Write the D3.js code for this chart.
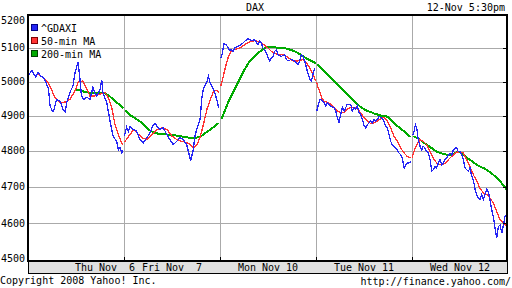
<!DOCTYPE html>
<html>
<head>
<meta charset="utf-8">
<script src="https://cdn.jsdelivr.net/npm/d3@7/dist/d3.min.js"></script>
<style>
body { margin: 0; background: #fff; }
text { font-family: "DejaVu Sans Mono", monospace; font-size: 10px; fill: #000; }
</style>
</head>
<body>
<script>
// trading days shown, minutes since 09:00 per day
var days = ["Thu Nov  6", "Fri Nov  7", "Mon Nov 10", "Tue Nov 11", "Wed Nov 12"];
var yTicks = [4500, 4600, 4700, 4800, 4900, 5000, 5100, 5200];
var seriesNames = ["^GDAXI", "50-min MA", "200-min MA"];

// ^GDAXI, one array per day: [minute, level]
var gdaxi = [
  [[0,5016],[20,5033],[32,5021],[42,5013],[53,5027],[69,5016],[85,5010],[99,4992],[109,4978],[117,4929],[128,4916],[135,4913],[152,4948],[170,4943],[186,4919],[197,4911],[206,4940],[223,4969],[239,4987],[250,5027],[266,5058],[276,5007],[284,4958],[297,4948],[313,4954],[329,4948],[338,4968],[345,4983],[356,4966],[365,4958],[383,4978],[392,5005],[398,4968],[418,4939],[436,4885],[452,4842],[471,4827],[480,4803],[489,4809],[498,4795],[505,4803]],
  [[2,4842],[14,4867],[24,4855],[32,4870],[48,4861],[67,4856],[85,4832],[103,4823],[121,4837],[138,4851],[156,4875],[165,4878],[174,4871],[191,4861],[209,4866],[227,4847],[244,4832],[262,4818],[280,4827],[297,4837],[315,4832],[333,4818],[354,4773],[368,4803],[377,4842],[386,4861],[404,4890],[413,4948],[421,4978],[439,4997],[448,5016],[457,4998],[475,4978],[484,4963],[493,4948],[502,4924]],
  [[4,5071],[11,5080],[21,5112],[33,5110],[43,5100],[52,5092],[60,5095],[69,5090],[78,5100],[96,5105],[113,5110],[131,5120],[149,5128],[167,5122],[184,5125],[202,5110],[211,5120],[220,5115],[228,5100],[237,5095],[246,5085],[255,5071],[264,5061],[273,5071],[282,5075],[291,5090],[300,5095],[308,5080],[326,5075],[344,5080],[353,5066],[361,5061],[379,5066],[397,5061],[414,5051],[423,5061],[432,5080],[441,5075],[450,5061],[459,5041],[468,5022],[477,5007],[486,5002],[494,5022],[503,5041]],
  [[4,4914],[11,4929],[21,4948],[33,4945],[43,4939],[52,4929],[60,4939],[69,4934],[78,4929],[96,4924],[105,4914],[113,4895],[122,4882],[131,4904],[140,4924],[149,4914],[158,4924],[166,4934],[184,4934],[193,4914],[202,4924],[211,4919],[220,4929],[228,4911],[237,4904],[246,4890],[255,4873],[264,4866],[273,4875],[282,4880],[291,4885],[300,4880],[308,4890],[317,4885],[326,4890],[335,4899],[344,4895],[352,4892],[361,4885],[370,4871],[379,4866],[388,4846],[397,4827],[405,4818],[414,4813],[423,4808],[432,4803],[441,4794],[450,4789],[459,4780],[468,4752],[477,4761],[486,4766],[494,4766],[503,4770]],
  [[4,4846],[11,4856],[18,4875],[25,4866],[33,4832],[43,4813],[52,4803],[60,4813],[69,4808],[78,4798],[87,4794],[96,4775],[105,4743],[113,4747],[122,4756],[131,4752],[140,4766],[149,4775],[158,4761],[166,4766],[175,4775],[184,4780],[193,4789],[202,4794],[211,4789],[220,4803],[228,4808],[237,4808],[246,4798],[255,4798],[264,4789],[273,4775],[282,4752],[291,4747],[300,4743],[308,4752],[317,4729],[326,4719],[335,4692],[344,4678],[352,4669],[361,4664],[370,4678],[379,4664],[388,4678],[397,4692],[405,4687],[414,4664],[423,4637],[432,4618],[441,4587],[450,4560],[459,4591],[468,4595],[477,4573],[486,4595],[494,4618],[503,4622]]
];

var ma50 = [
  [[55,5022],[81,5012],[108,4997],[124,4978],[143,4953],[170,4939],[197,4940],[223,4948],[250,4973],[267,4999],[291,5002],[308,4982],[329,4958],[356,4958],[383,4963],[409,4968],[427,4953],[445,4924],[462,4875],[480,4846],[498,4823],[506,4818]],
  [[4,4826],[25,4842],[52,4861],[69,4851],[96,4837],[122,4832],[149,4847],[175,4861],[202,4866],[228,4861],[255,4842],[281,4832],[308,4827],[335,4823],[352,4818],[370,4808],[388,4818],[406,4842],[424,4880],[441,4920],[459,4948],[477,4973],[494,4975],[503,4968]],
  [[4,4987],[16,5012],[28,5041],[43,5071],[57,5088],[78,5095],[105,5100],[131,5110],[158,5118],[184,5122],[202,5120],[228,5112],[255,5100],[282,5085],[308,5080],[335,5080],[361,5072],[388,5061],[414,5061],[441,5066],[459,5056],[477,5041],[494,5022],[508,5002]],
  [[4,4998],[11,4983],[21,4969],[32,4951],[43,4942],[58,4940],[78,4934],[96,4924],[113,4914],[131,4909],[149,4909],[166,4919],[184,4924],[202,4924],[220,4921],[237,4909],[255,4895],[273,4885],[291,4878],[308,4880],[326,4885],[344,4892],[361,4895],[379,4885],[397,4866],[414,4842],[432,4827],[450,4808],[468,4794],[486,4784],[503,4780]],
  [[2,4781],[7,4794],[25,4818],[43,4832],[60,4827],[78,4818],[96,4798],[113,4780],[131,4766],[149,4761],[166,4761],[184,4770],[202,4780],[220,4789],[237,4796],[255,4798],[273,4794],[291,4775],[308,4756],[326,4733],[344,4715],[361,4696],[379,4683],[397,4678],[414,4669],[432,4655],[450,4632],[468,4609],[486,4600],[503,4591]]
];

var ma200 = [
  [[251,4975],[273,4975],[299,4970],[326,4968],[352,4966],[379,4966],[405,4966],[432,4958],[458,4945],[485,4933],[507,4922]],
  [[7,4915],[33,4902],[60,4893],[85,4884],[112,4870],[138,4858],[165,4851],[191,4848],[219,4847],[246,4846],[272,4844],[299,4842],[326,4839],[352,4837],[379,4837],[406,4840],[432,4851],[459,4861],[485,4871],[503,4880]],
  [[7,4890],[25,4914],[43,4939],[60,4958],[78,4978],[96,4997],[113,5016],[131,5036],[149,5053],[167,5066],[184,5075],[202,5085],[220,5092],[237,5100],[255,5104],[282,5103],[308,5100],[335,5100],[361,5097],[388,5092],[414,5085],[441,5075],[468,5066],[494,5059],[508,5054]],
  [[7,5051],[25,5041],[43,5031],[60,5022],[78,5012],[96,5002],[113,4992],[131,4982],[149,4973],[166,4963],[184,4953],[202,4943],[220,4934],[237,4926],[255,4919],[273,4914],[291,4911],[308,4907],[326,4904],[344,4901],[361,4899],[379,4898],[397,4890],[414,4880],[432,4871],[450,4863],[468,4856],[486,4846],[503,4840]],
  [[7,4842],[25,4837],[43,4832],[60,4824],[78,4818],[96,4811],[113,4805],[131,4798],[149,4794],[166,4792],[184,4789],[202,4789],[220,4792],[237,4796],[255,4796],[273,4789],[291,4780],[308,4775],[326,4768],[344,4761],[361,4756],[379,4752],[397,4747],[414,4740],[432,4733],[450,4724],[468,4715],[486,4703],[503,4692]]
];

var dayLen = 510; // 09:00 - 17:30
var colors = ["#2525f5", "#ff3333", "#00aa00"];
var borders = ["#000080", "#800000", "#004000"];

var W = 512, H = 288;
var mLeft = 28, mRight = 507, mTop = 15, mBottom = 260.5, bandH = 12.5;

var svg = d3.select("body").append("svg")
  .attr("width", W).attr("height", H);

var x = d3.scaleLinear()
  .domain([0, days.length * dayLen])
  .range([mLeft, mLeft + 96 * days.length]);

var y = d3.scaleLog()
  .domain([4500, 5200])
  .range([mBottom, mTop]);

// grid
var grid = svg.append("g").attr("stroke", "#aaaaaa").attr("shape-rendering", "crispEdges");
grid.selectAll(".hy").data(yTicks.slice(1, -1)).join("line")
  .attr("x1", mLeft).attr("x2", mRight)
  .attr("y1", d => Math.round(y(d)) + 0.5).attr("y2", d => Math.round(y(d)) + 0.5);
grid.selectAll(".vx").data(d3.range(1, days.length)).join("line")
  .attr("x1", d => Math.round(x(d * dayLen)) + 0.5).attr("x2", d => Math.round(x(d * dayLen)) + 0.5)
  .attr("y1", mTop).attr("y2", mBottom);

// series
var line = d3.line()
  .x(d => x(d[0] + d[2] * dayLen))
  .y(d => y(d[1]));

function drawSeries(data, color, width) {
  data.forEach(function(day, i) {
    svg.append("path")
      .datum(day.map(p => [p[0], p[1], i]))
      .attr("d", line)
      .attr("fill", "none")
      .attr("stroke", color)
      .attr("stroke-width", width)
      .attr("shape-rendering", "crispEdges");
  });
}
drawSeries(ma200, colors[2], 2);
drawSeries(ma50, colors[1], 1.3);
drawSeries(gdaxi, colors[0], 1.3);

// frame
var frame = svg.append("g").attr("shape-rendering", "crispEdges");
frame.append("rect")
  .attr("x", mLeft).attr("y", mBottom)
  .attr("width", mRight - mLeft).attr("height", bandH)
  .attr("fill", "#e0e0e0").attr("stroke", "#000").attr("stroke-width", 1);
frame.append("rect")
  .attr("x", mLeft).attr("y", mTop)
  .attr("width", mRight - mLeft).attr("height", mBottom - mTop)
  .attr("fill", "none").attr("stroke", "#000").attr("stroke-width", 2);

// tick marks
frame.selectAll(".rt").data(yTicks.slice(1, -1)).join("line")
  .attr("x1", mRight - 4).attr("x2", mRight)
  .attr("y1", d => Math.round(y(d)) + 0.5).attr("y2", d => Math.round(y(d)) + 0.5)
  .attr("stroke", "#000");
frame.selectAll(".bt").data(d3.range(1, days.length)).join("line")
  .attr("x1", d => Math.round(x(d * dayLen)) + 0.5).attr("x2", d => Math.round(x(d * dayLen)) + 0.5)
  .attr("y1", mBottom - 4).attr("y2", mBottom)
  .attr("stroke", "#000");

// y labels
svg.selectAll(".yl").data(yTicks).join("text")
  .attr("x", mLeft - 3)
  .attr("y", d => Math.min(Math.max(y(d), 20), 258.5))
  .attr("dy", "0.35em")
  .attr("text-anchor", "end")
  .text(d => d);

// day labels
svg.selectAll(".dl").data(days).join("text")
  .attr("x", (d, i) => x((i + 0.5) * dayLen) + (i == 0 ? 29 : 0))
  .attr("y", mBottom + 10)
  .attr("text-anchor", "middle")
  .style("white-space", "pre")
  .text(d => d);

// header / footer
svg.append("text").attr("x", 255).attr("y", 10.5).attr("text-anchor", "middle").text("DAX");
svg.append("text").attr("x", 505).attr("y", 10.5).attr("text-anchor", "end").text("12-Nov 5:30pm");
svg.append("text").attr("x", 0).attr("y", 284).text("Copyright 2008 Yahoo! Inc.");
svg.append("text").attr("x", 511).attr("y", 285).attr("text-anchor", "end").text("http://finance.yahoo.com/");

// legend
var legend = svg.append("g");
seriesNames.forEach(function(name, i) {
  legend.append("rect")
    .attr("x", 31.5).attr("y", 24.5 + i * 13)
    .attr("width", 6).attr("height", 6)
    .attr("fill", colors[i]).attr("stroke", borders[i])
    .attr("shape-rendering", "crispEdges");
  legend.append("text")
    .attr("x", 41).attr("y", 31.5 + i * 13)
    .text(name);
});
</script>
</body>
</html>
